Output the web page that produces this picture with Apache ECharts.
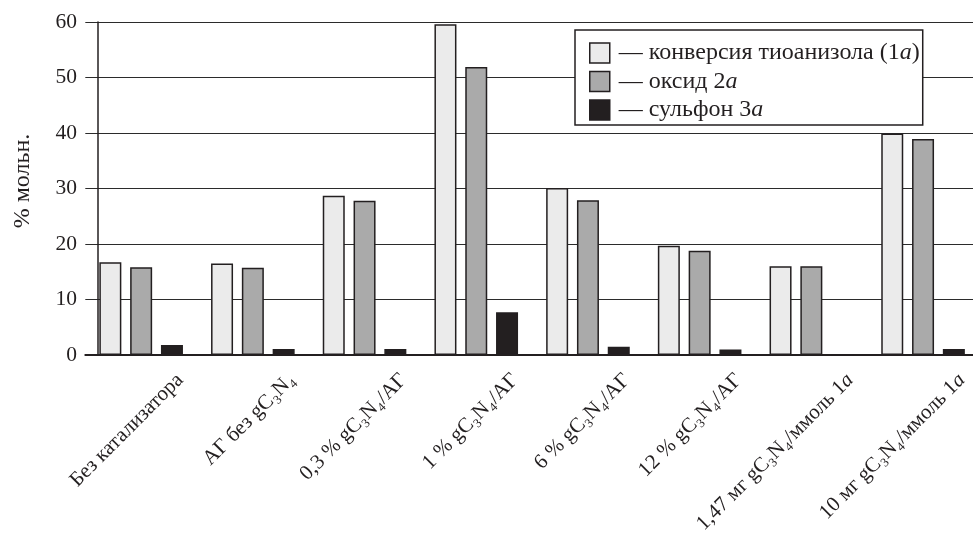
<!DOCTYPE html>
<html>
<head>
<meta charset="utf-8">
<script src="https://cdn.jsdelivr.net/npm/echarts@6/dist/echarts.min.js"></script>
<style>
html,body{margin:0;padding:0;background:#fff;}
#chart{width:973px;height:545px;}
</style>
</head>
<body>
<div id="chart"></div>
<script>
const categories = ['Без катализатора', 'АГ без gC₃N₄', '0,3 % gC₃N₄/АГ', '1 % gC₃N₄/АГ', '6 % gC₃N₄/АГ', '12 % gC₃N₄/АГ', '1,47 мг gC₃N₄/ммоль 1a', '10 мг gC₃N₄/ммоль 1a'];
const seriesNames = ['конверсия тиоанизола (1a)', 'оксид 2a', 'сульфон 3a'];
const conversion = [16.7, 16.5, 28.7, 59.6, 30.1, 19.7, 16.0, 39.9];
const oxide = [15.8, 15.7, 27.8, 51.9, 27.9, 18.8, 16.0, 38.9];
const sulfone = [1.8, 1.1, 1.1, 7.7, 1.5, 1.0, 0, 1.1];
const yTicks = [0, 10, 20, 30, 40, 50, 60];

const FONT = '"Liberation Serif", "DejaVu Serif", serif';
const INK = '#231f20';
const colors = ['#ebebeb', '#aaaaaa', '#231f20'];

function italA(s) {
  return s.replace(/(\d)a/g, '$1{i|a}');
}

const chart = echarts.init(document.getElementById('chart'), null, {renderer: 'canvas'});
const gridLeft = 85.3, gridWidth = 893.6, gridTop = 22, gridHeight = 333;

chart.setOption({
  animation: false,
  backgroundColor: '#fff',
  grid: [
    {left: gridLeft, top: gridTop, width: gridWidth, height: gridHeight, containLabel: false, outerBoundsMode: 'none'},
    {left: gridLeft + 39, top: gridTop, width: gridWidth, height: gridHeight, containLabel: false, outerBoundsMode: 'none'}
  ],
  legend: {
    orient: 'vertical',
    left: 575, top: 30,
    padding: [11, 3, 3, 14],
    itemGap: 4.5,
    itemWidth: 20, itemHeight: 20,
    icon: 'rect',
    backgroundColor: '#fff',
    borderColor: INK, borderWidth: 1.5, borderRadius: 0,
    itemStyle: {borderColor: INK, borderWidth: 1.5},
    formatter: function (name) { return '— ' + italA(name); },
    textStyle: {
      fontFamily: FONT, fontSize: 24, color: INK, padding: [0, 0, 0, 4],
      rich: {i: {fontFamily: FONT, fontSize: 24, fontStyle: 'italic', color: INK}}
    },
    data: seriesNames
  },
  xAxis: [
    {
      type: 'category', gridIndex: 0, data: categories,
      axisLine: {show: true, lineStyle: {color: INK, width: 2}},
      axisTick: {show: false},
      axisLabel: {show: false},
      splitLine: {show: false}
    },
    {
      type: 'category', gridIndex: 1, data: categories,
      axisLine: {show: false}, axisTick: {show: false}, splitLine: {show: false},
      axisLabel: {
        show: true, interval: 0, rotate: 45, margin: 22, hideOverlap: false,
        fontFamily: FONT, fontSize: 21, color: INK,
        formatter: function (v) { return italA(v); },
        rich: {i: {fontFamily: FONT, fontSize: 21, fontStyle: 'italic', color: INK}}
      }
    }
  ],
  yAxis: [
    {
      type: 'value', gridIndex: 0, min: 0, max: 60, interval: 10,
      offset: -(98 - gridLeft),
      name: '% мольн.', nameLocation: 'middle', nameGap: 63, nameRotate: 90,
      nameTextStyle: {fontFamily: FONT, fontSize: 24, color: INK, padding: [0, 0, 0, 15]},
      axisLine: {show: true, lineStyle: {color: INK, width: 1.5}},
      axisTick: {show: false},
      axisLabel: {
        margin: 21, fontFamily: FONT, fontSize: 21.5, color: INK,
        formatter: function (v) { return yTicks.indexOf(v) >= 0 ? String(v) : ''; }
      },
      splitLine: {show: true, lineStyle: {color: '#2b2b2b', width: 1.2}}
    },
    {type: 'value', gridIndex: 1, show: false, min: 0, max: 60}
  ],
  series: [
    {name: seriesNames[0], type: 'bar', xAxisIndex: 0, yAxisIndex: 0, data: conversion, barWidth: 22, barGap: '40%',
     itemStyle: {color: colors[0], borderColor: INK, borderWidth: 1.5}},
    {name: seriesNames[1], type: 'bar', xAxisIndex: 0, yAxisIndex: 0, data: oxide, barWidth: 22, barGap: '40%',
     itemStyle: {color: colors[1], borderColor: INK, borderWidth: 1.5}},
    {name: seriesNames[2], type: 'bar', xAxisIndex: 0, yAxisIndex: 0, data: sulfone, barWidth: 22, barGap: '40%',
     itemStyle: {color: colors[2], borderColor: INK, borderWidth: 1.5}}
  ]
});
</script>
</body>
</html>
